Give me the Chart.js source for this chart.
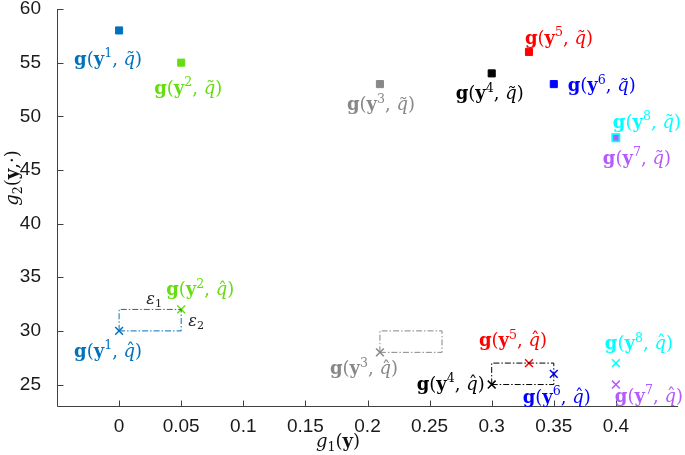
<!DOCTYPE html>
<html>
<head>
<meta charset="utf-8">
<script src="https://cdn.jsdelivr.net/npm/chart.js@4"></script>
<style>
  html, body { margin: 0; padding: 0; background: #fff; }
  canvas { display: block; }
</style>
</head>
<body>
<canvas id="c" width="685" height="455"></canvas>
<script>
// ---------------- data ----------------
const pointIds = [1, 2, 3, 4, 5, 6, 7, 8];
const g1Tilde = [0, 0.05, 0.21, 0.30, 0.33, 0.35, 0.40, 0.40];
const g2Tilde = [58, 55, 53, 54, 56, 53, 48, 48];
const g1Hat   = [0, 0.05, 0.21, 0.30, 0.33, 0.35, 0.40, 0.40];
const g2Hat   = [30, 32, 28, 25, 27, 26, 25, 27];
const epsilon = [0.05, 2];          // box width (g1) and height (g2)
const boxOrigins = [0, 2, 3];       // hat points that carry an epsilon box
const xTicks = [0, 0.05, 0.1, 0.15, 0.2, 0.25, 0.3, 0.35, 0.4];
const yTicks = [25, 30, 35, 40, 45, 50, 55, 60];
const xRange = [-0.05, 0.45];
const yRange = [23, 60];

// ---------------- styles / layout ----------------
const colors = ['#0072BD', '#66DD11', '#888888', '#000000', '#FF0000', '#0000FF', '#B45AFF', '#00FFFF'];
const tildeOff = [[-11, 29.5], [7, 26], [1, 21], [-2, 21], [30, -13], [48, 2], [21, 21], [31, -15]];
const hatOff   = [[-11, 21], [19, -19], [-16, 17], [-41, 0], [-16, -22], [3, 24], [33, 12], [23, -19]];
const SERIF = '"DejaVu Serif", "Liberation Serif", serif';
const SANS = '"Liberation Sans", Arial, sans-serif';
const LABEL_SIZE = 18;
const AXIS_COLOR = '#404040';

function fontFor(seg, size) {
  const s = seg.sup || seg.sub ? size * 0.7 : size;
  return (seg.s === 'i' ? 'italic ' : '') + (seg.s === 'b' ? 'bold ' : '') + s + 'px ' + SERIF;
}
function drawRich(ctx, segs, cx, cy, size, color) {
  ctx.save();
  ctx.fillStyle = color;
  ctx.textBaseline = 'alphabetic';
  ctx.textAlign = 'left';
  let total = 0;
  const widths = segs.map(seg => { ctx.font = fontFor(seg, size); const w = ctx.measureText(seg.t).width; total += w; return w; });
  let x = cx - total / 2;
  const base = cy + 0.28 * size;
  segs.forEach((seg, i) => {
    ctx.font = fontFor(seg, size);
    let y = base;
    if (seg.sup) y -= 0.42 * size;
    if (seg.sub) y += 0.2 * size;
    ctx.fillText(seg.t, x, y);
    if (seg.acc) {
      ctx.textAlign = 'center';
      ctx.font = size + 'px ' + SERIF;
      ctx.fillText(seg.acc, x + widths[i] / 2 + 0.06 * size, y + 0.02 * size);
      ctx.textAlign = 'left';
    }
    x += widths[i];
  });
  ctx.restore();
}
function gLabel(k, hat) {
  return [
    { t: 'g', s: 'b' }, { t: '(', s: 'n' }, { t: 'y', s: 'b' },
    { t: String(k), s: 'n', sup: true }, { t: ', ', s: 'n' },
    { t: 'q', s: 'i', acc: hat ? '\u02C6' : '\u02DC' }, { t: ')', s: 'n' }
  ];
}

// ---------------- datasets ----------------
const boxDatasets = boxOrigins.map(i => {
  const x0 = g1Hat[i], y0 = g2Hat[i];
  return {
    type: 'line',
    data: [
      { x: x0, y: y0 }, { x: x0 + epsilon[0], y: y0 },
      { x: x0 + epsilon[0], y: y0 + epsilon[1] }, { x: x0, y: y0 + epsilon[1] },
      { x: x0, y: y0 }
    ],
    borderColor: colors[i],
    borderWidth: 1,
    borderDash: [6, 2, 1.5, 2],
    pointRadius: 0,
    fill: false,
    tension: 0
  };
});

const hatDataset = {
  type: 'scatter',
  data: g1Hat.map((x, i) => ({ x, y: g2Hat[i] })),
  pointStyle: 'crossRot',
  pointRadius: 5.5,
  pointBorderWidth: 1.5,
  pointBorderColor: colors,
  pointBackgroundColor: colors
};

const tildeDataset = {
  type: 'scatter',
  data: g1Tilde.map((x, i) => ({ x, y: g2Tilde[i] })),
  pointStyle: 'rect',
  pointRadius: 5,
  pointBorderColor: colors,
  pointBackgroundColor: colors.map((c, i) => i === 7 ? 'rgba(0,0,0,0)' : c),
  pointBorderWidth: colors.map((c, i) => i === 7 ? 1.8 : 1)
};

// ---------------- plugins ----------------
const axesPlugin = {
  id: 'axesPlugin',
  beforeDatasetsDraw(chart) {
    const { ctx, chartArea: a, scales: { x, y } } = chart;
    ctx.save();
    ctx.strokeStyle = AXIS_COLOR;
    ctx.lineWidth = 1;
    ctx.beginPath();
    const L = Math.round(a.left) + 0.5, B = Math.round(a.bottom) + 0.5;
    ctx.moveTo(L, Math.round(a.top));
    ctx.lineTo(L, B);
    ctx.lineTo(Math.round(a.right), B);
    xTicks.forEach(v => { const px = Math.round(x.getPixelForValue(v)) + 0.5; ctx.moveTo(px, B); ctx.lineTo(px, B - 6); });
    yTicks.forEach(v => { const py = Math.round(y.getPixelForValue(v)) + 0.5; ctx.moveTo(L, py); ctx.lineTo(L + 6, py); });
    ctx.stroke();
    ctx.restore();
  },
  afterDraw(chart) {
    const { ctx, scales: { x, y } } = chart;
    pointIds.forEach((k, i) => {
      const tx = x.getPixelForValue(g1Tilde[i]) + tildeOff[i][0];
      const ty = y.getPixelForValue(g2Tilde[i]) + tildeOff[i][1];
      drawRich(ctx, gLabel(k, false), tx, ty, LABEL_SIZE, colors[i]);
      const hx = x.getPixelForValue(g1Hat[i]) + hatOff[i][0];
      const hy = y.getPixelForValue(g2Hat[i]) + hatOff[i][1];
      drawRich(ctx, gLabel(k, true), hx, hy, LABEL_SIZE, colors[i]);
    });
    const b = boxOrigins[0];
    const e1x = x.getPixelForValue(g1Hat[b] + epsilon[0] / 2) + 4;
    const e1y = y.getPixelForValue(g2Hat[b] + epsilon[1]) - 10;
    drawRich(ctx, [{ t: '\u03B5', s: 'i' }, { t: '1', s: 'n', sub: true }], e1x, e1y, 16, '#222');
    const e2x = x.getPixelForValue(g1Hat[b] + epsilon[0]) + 15;
    const e2y = y.getPixelForValue(g2Hat[b] + epsilon[1] / 2) + 1;
    drawRich(ctx, [{ t: '\u03B5', s: 'i' }, { t: '2', s: 'n', sub: true }], e2x, e2y, 16, '#222');
    drawRich(ctx, [{ t: 'g', s: 'i' }, { t: '1', s: 'n', sub: true }, { t: '(', s: 'n' }, { t: 'y', s: 'b' }, { t: ')', s: 'n' }], 338, 442, 18, '#111');
    ctx.save();
    ctx.translate(13, 178);
    ctx.rotate(-Math.PI / 2);
    drawRich(ctx, [{ t: 'g', s: 'i' }, { t: '2', s: 'n', sub: true }, { t: '(', s: 'n' }, { t: 'y', s: 'b' }, { t: ',', s: 'n' }, { t: '\u00B7', s: 'n' }, { t: ')', s: 'n' }], 0, 0, 18, '#111');
    ctx.restore();
  }
};

function fmt(v) { return String(parseFloat(Number(v).toFixed(2))); }

new Chart(document.getElementById('c'), {
  type: 'scatter',
  data: { datasets: [...boxDatasets, hatDataset, tildeDataset] },
  options: {
    responsive: false,
    animation: false,
    devicePixelRatio: 1,
    layout: { padding: { top: 9, right: 7, left: 0, bottom: 0 } },
    plugins: { legend: { display: false }, tooltip: { enabled: false } },
    events: [],
    scales: {
      x: {
        type: 'linear',
        min: xRange[0], max: xRange[1],
        grid: { display: false },
        border: { display: false },
        afterBuildTicks: s => { s.ticks = xTicks.map(v => ({ value: v })); },
        afterFit: s => { s.height = 49; s.paddingLeft = 0; s.paddingRight = 0; },
        ticks: { color: '#1a1a1a', font: { family: SANS, size: 19 }, padding: 1, maxRotation: 0, autoSkip: false, callback: fmt }
      },
      y: {
        type: 'linear',
        min: yRange[0], max: yRange[1],
        grid: { display: false },
        border: { display: false },
        afterBuildTicks: s => { s.ticks = yTicks.map(v => ({ value: v })); },
        afterFit: s => { s.width = 57; s.paddingTop = 0; s.paddingBottom = 0; },
        ticks: { color: '#1a1a1a', font: { family: SANS, size: 19 }, padding: 8, autoSkip: false, callback: fmt }
      }
    }
  },
  plugins: [axesPlugin]
});
</script>
</body>
</html>
